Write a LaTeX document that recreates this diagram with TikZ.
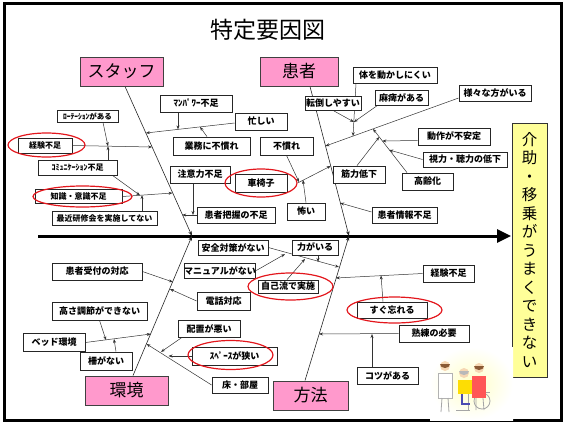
\documentclass[tikz,border=0pt]{standalone}
\usepackage{fontspec}
\newfontfamily\jp{Noto Sans CJK JP}
\usetikzlibrary{arrows.meta,shapes.geometric,calc,backgrounds}
\definecolor{catpink}{HTML}{FF99CC}
\definecolor{ringred}{HTML}{E3161C}
\definecolor{resyellow}{HTML}{FFFF99}
\definecolor{skin}{HTML}{F6D7B3}
\definecolor{hairbrown}{HTML}{8A5A34}

\begin{document}
\begin{tikzpicture}[x=1pt,y=-1pt,
  lbl/.style={draw=black!85,line width=0.8pt,fill=white,inner sep=0pt,
    font=\jp\bfseries\fontsize{9}{10}\selectfont},
  lblS/.style={lbl,font=\jp\bfseries\fontsize{8}{9}\selectfont},
  lblT/.style={lbl,font=\jp\bfseries\fontsize{7.5}{8}\selectfont},
  cat/.style={draw=black!75,line width=0.9pt,fill=catpink,inner sep=0pt,
    font=\jp\fontsize{17}{18}\selectfont},
  ring/.style={ellipse,draw=ringred,line width=1.2pt,inner sep=0pt},
  conn/.style={draw=black!80,line width=0.5pt,-{Stealth[length=4pt,width=3pt]}},
  bone/.style={draw=black!85,line width=0.6pt,-{Stealth[length=5pt,width=3.5pt]}},
]
\useasboundingbox (0,0) rectangle (565,424);

% outer frame and title
\draw[line width=3pt] (4.5,3) rectangle (561,420);
\node[font=\jp\fontsize{23}{24}\selectfont] (title) at (268,30) {特定要因図};

% category heads
\node[cat,minimum width=83,minimum height=29] (stf) at (121.5,71.5) {スタッフ};
\node[cat,minimum width=78,minimum height=29] (pat) at (299,71.5) {患者};
\node[cat,minimum width=83,minimum height=29] (env) at (126.5,390.5) {環境};
\node[cat,minimum width=75,minimum height=29] (mth) at (310.5,395.5) {方法};

% effect
\node[draw=black!80,line width=0.9pt,fill=resyellow,minimum width=35,minimum height=254,
  inner sep=0pt,align=center,font=\jp\fontsize{15.5}{18.5}\selectfont] (eff) at (529.5,250)
  {介\\助\\・\\移\\乗\\が\\う\\ま\\く\\で\\き\\な\\い};

% ---- staff branch
\node[lblT,minimum width=61,minimum height=12] (rt) at (87.5,116) {ﾛｰﾃｰｼｮﾝがある};
\node[lblS,minimum width=54,minimum height=15] (kA) at (45,145.5) {経験不足};
\node[ring,minimum width=77,minimum height=24] (rA) at (46.5,145) {};
\node[lblS,minimum width=79,minimum height=15] (cm) at (77.5,167.5) {ｺﾐｭﾆｹｰｼｮﾝ不足};
\node[lblS,minimum width=87,minimum height=14] (ch) at (78.5,196.5) {知識・意識不足};
\node[ring,minimum width=99,minimum height=21] (rB) at (82.5,196.5) {};
\node[lblS,minimum width=105,minimum height=14] (kk) at (104.5,218) {最近研修会を実施してない};
\node[lbl,minimum width=72,minimum height=17] (mp) at (196,103.5) {ﾏﾝﾊﾟﾜｰ不足};
\node[lbl,minimum width=52,minimum height=17] (is) at (261,121.5) {忙しい};
\node[lbl,minimum width=77,minimum height=18] (gm) at (211.5,146) {業務に不慣れ};
\node[lbl,minimum width=60,minimum height=17] (cy) at (200,174.5) {注意力不足};
\node[lbl,minimum width=52,minimum height=18] (ks) at (261,183) {車椅子};
\node[ring,minimum width=72,minimum height=28] (rC) at (261,183) {};
\node[lbl,minimum width=78,minimum height=16] (hk) at (236,215) {患者把握の不足};

% ---- patient branch
\node[lbl,minimum width=53,minimum height=18] (fn) at (286.5,146) {不慣れ};
\node[lbl,minimum width=38,minimum height=17] (kw) at (306,211.5) {怖い};
\node[lbl,minimum width=56,minimum height=14] (tt) at (333,103) {転倒しやすい};
\node[lbl,minimum width=84,minimum height=16] (kr) at (395,75) {体を動かしにくい};
\node[lbl,minimum width=53,minimum height=15] (mh) at (401.5,97.5) {麻痺がある};
\node[lbl,minimum width=72,minimum height=16] (sm) at (495,93) {様々な方がいる};
\node[lbl,minimum width=72,minimum height=17] (dz) at (454,136.5) {動作が不安定};
\node[lbl,minimum width=84,minimum height=15] (sr) at (465,159.5) {視力・聴力の低下};
\node[lbl,minimum width=51,minimum height=17] (kr2) at (427.5,181.5) {高齢化};
\node[lbl,minimum width=52,minimum height=17] (kn) at (359,174.5) {筋力低下};
\node[lbl,minimum width=65,minimum height=16] (jj) at (404.5,215) {患者情報不足};

% ---- method branch
\node[lbl,minimum width=70,minimum height=15] (az) at (233,247.5) {安全対策がない};
\node[lbl,minimum width=46,minimum height=15] (cr) at (315,247.5) {力がいる};
\node[lbl,minimum width=70,minimum height=15] (mn) at (220,270.5) {マニュアルがない};
\node[lbl,minimum width=60,minimum height=13] (jr) at (288,286.5) {自己流で実施};
\node[ring,minimum width=85,minimum height=27] (rD) at (290.5,286.5) {};
\node[lbl,minimum width=51,minimum height=17] (kB) at (448.5,273.5) {経験不足};
\node[lbl,minimum width=70,minimum height=16] (sw) at (392,310) {すぐ忘れる};
\node[ring,minimum width=95,minimum height=26] (rE) at (394.5,310) {};
\node[lbl,minimum width=70,minimum height=17] (jk) at (434,333.5) {熟練の必要};
\node[lbl,minimum width=61,minimum height=17] (kt) at (387.5,375.5) {コツがある};

% ---- environment branch
\node[lbl,minimum width=53,minimum height=18] (dw) at (223.5,301) {電話対応};
\node[lbl,minimum width=90,minimum height=17] (uk) at (97,271.5) {患者受付の対応};
\node[lbl,minimum width=95,minimum height=18] (tk) at (99.5,311) {高さ調節ができない};
\node[lbl,minimum width=62,minimum height=18] (bk) at (54,342.5) {ベッド環境};
\node[lbl,minimum width=52,minimum height=18] (sk) at (106,361) {柵がない};
\node[lbl,minimum width=62,minimum height=17] (hc) at (209,328.5) {配置が悪い};
\node[lbl,minimum width=85,minimum height=18] (sp) at (234.5,356) {ｽﾍﾟｰｽが狭い};
\node[ring,minimum width=85,minimum height=29] (rF) at (230.5,355) {};
\node[lbl,minimum width=56,minimum height=16] (yk) at (240,385) {床・部屋};

% junction points on the spine and on the branch lines
\coordinate (jL) at (192,236);
\coordinate (jR) at (349,236);
\coordinate (sA) at (152.1,147);
\coordinate (sB) at (145.9,133);
\coordinate (sC) at (172.5,193);
\coordinate (sD) at (182.2,215);
\coordinate (sE) at (108,146.2);
\coordinate (sF) at (140,195.3);
\coordinate (sG) at (142,195.1);
\coordinate (sH) at (178,129.4);
\coordinate (sI) at (200,126.9);
\coordinate (sJ) at (193,215);
\coordinate (pA) at (325.5,146);
\coordinate (pJ) at (353.9,122);
\coordinate (pK) at (353,136.1);
\coordinate (pL) at (373,128.9);
\coordinate (pM) at (382.3,141);
\coordinate (pN) at (389.3,150);
\coordinate (pO) at (379.2,137);
\coordinate (pP) at (330.7,166);
\coordinate (pQ) at (299,182);
\coordinate (pR) at (303,180);
\coordinate (pS) at (340.2,203);
\coordinate (mA) at (339,267);
\coordinate (mB) at (318,262);
\coordinate (mC) at (285,254.1);
\coordinate (mD) at (305,258.9);
\coordinate (mE) at (335.8,278);
\coordinate (mF) at (381,275.4);
\coordinate (mG) at (319,334);
\coordinate (mH) at (372,334);
\coordinate (eA) at (172.9,282);
\coordinate (eB) at (169.9,289);
\coordinate (eC) at (150.8,334);
\coordinate (eD) at (106,340.1);
\coordinate (eE) at (114,339);
\coordinate (eF) at (146.6,344);
\coordinate (eG) at (168.5,356);
\coordinate (eH) at (161,351.9);
\coordinate (spL) at (38,236);
\coordinate (spR) at (511,236);

\begin{pgfonlayer}{background}
  % spine
  \draw[line width=3pt,-{Triangle[length=14pt,width=13pt]}] (spL) -- (spR);
  % main bones
  \draw[bone] ([xshift=3.5pt]stf.south) -- (jL);
  \draw[bone] ([xshift=6.5pt]env.north) -- (jL);
  \draw[bone] ([xshift=11pt]pat.south) -- (jR);
  \draw[bone] ([xshift=-5.5pt]mth.north) -- (jR);

  % staff causes
  \draw[conn] (kA.east) -- (sA);
  \draw[conn] ([xshift=15.5pt]rt.south) -- (sE);
  \draw[conn] ([xshift=30.5pt]cm.north) -- (sE);
  \draw[conn] (ch.east) -- (sC);
  \draw[conn] ([xshift=35pt]cm.south) -- (sF);
  \draw[conn] ([xshift=37.5pt]kk.north) -- (sG);
  \draw[conn] ([yshift=-1.5pt]is.west) -- (sB);
  \draw[conn] ([xshift=-18pt]mp.south) -- (sH);
  \draw[conn] ([xshift=-4.5pt]gm.north) -- (sI);
  \draw[conn] (hk.west) -- (sD);
  \draw[conn] ([xshift=-7pt]cy.south) -- (sJ);

  % patient causes
  \draw[conn] (rC.east) -- (pP);
  \draw[conn] (fn.south) -- (pQ);
  \draw[conn] (kw.north) -- (pR);
  \draw[conn] ([yshift=-5pt]sm.west) -- (pA);
  \draw[conn] ([xshift=-39pt]kr.south) -- (pK);
  \draw[conn] (tt.south) -- (pJ);
  \draw[conn] ([xshift=-24pt]mh.south) -- (pJ);
  \draw[conn] ([xshift=-20.5pt]kr2.north) -- (pL);
  \draw[conn] ([yshift=-4pt]dz.west) -- (pM);
  \draw[conn] (sr.west) -- (pN);
  \draw[conn] ([xshift=-2pt]kn.north) -- (pO);
  \draw[conn] ([yshift=3pt]jj.west) -- (pS);

  % method causes
  \draw[conn] (az.east) -- (mA);
  \draw[conn] ([xshift=3pt]cr.south) -- (mB);
  \draw[conn] (mn.east) -- (mC);
  \draw[conn] ([xshift=-1pt]jr.north) -- (mD);
  \draw[conn] (kB.west) -- (mE);
  \draw[conn] ([xshift=-9pt]sw.north) -- (mF);
  \draw[conn] (jk.west) -- (mG);
  \draw[conn] ([xshift=-15.5pt]kt.north) -- (mH);

  % environment causes
  \draw[conn] (uk.east) -- (eA);
  \draw[conn] (dw.west) -- (eB);
  \draw[conn] (bk.east) -- (eC);
  \draw[conn] (tk.south) -- (eD);
  \draw[conn] ([xshift=10pt]sk.north) -- (eE);
  \draw[conn] (yk.west) -- (eF);
  \draw[conn] (sp.west) -- (eG);
  \draw[conn] ([xshift=-27pt]hc.south) -- (eH);
\end{pgfonlayer}

% small illustration: caregivers helping a wheelchair user
\shade[inner color=yellow!22,outer color=white] (430,347) rectangle (513,420);
% wheelchair
\draw[gray!70,line width=0.8pt] (482,401) circle (8);
\draw[gray!70,line width=0.7pt] (466,392) -- (490,392) (468,392) -- (468,410) (456,410) -- (470,410);
% nurse on the left
\fill[white] (438,373) rectangle (452,398);
\draw[gray!60,line width=0.5pt] (438,373) rectangle (452,398);
\draw[gray!70,line width=0.8pt] (442,398) -- (441,412) (448,398) -- (449,412);
\fill[skin] (445,366) circle (5);
\fill[hairbrown] (440,364) arc (180:360:5 and -4) -- cycle;
% seated person
\fill[yellow!80!orange] (458,380) rectangle (472,394);
\fill[skin] (464,373) circle (5);
\fill[gray!55] (459,371) arc (180:360:5 and -4) -- cycle;
\draw[blue!40!gray,line width=1.5pt] (462,394) -- (462,404) -- (470,404);
% helper on the right
\fill[red!55!pink] (472,376) rectangle (486,398);
\fill[skin] (479,368) circle (5);
\fill[hairbrown] (474,366) arc (180:360:5 and -4) -- cycle;
\draw[gray!70,line width=0.8pt] (476,398) -- (476,410) (483,398) -- (484,410);

\end{tikzpicture}
\end{document}
